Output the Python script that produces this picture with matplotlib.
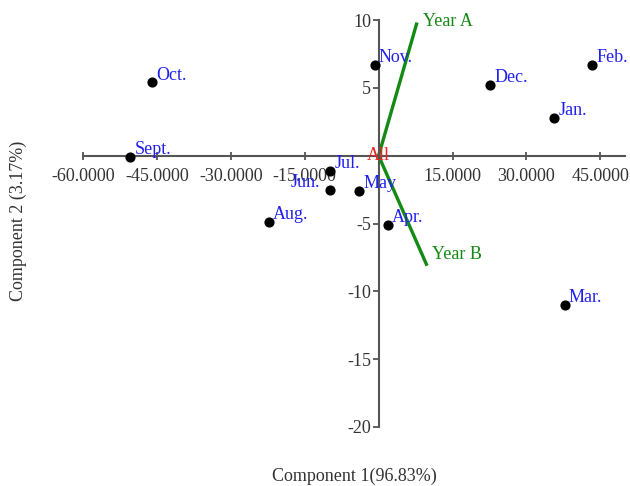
import numpy as np
import matplotlib
matplotlib.use("Agg")
import matplotlib.pyplot as plt

# month scores on the two components
months = ["Jan.", "Feb.", "Mar.", "Apr.", "May", "Jun.", "Jul.",
          "Aug.", "Sept.", "Oct.", "Nov.", "Dec."]
comp1 = [35.6, 43.3, 37.8, 1.9, -3.9, -9.8, -9.8, -22.3, -50.4, -46.0, -0.8, 22.6]
comp2 = [2.8, 6.7, -11.0, -5.1, -2.6, -2.5, -1.1, -4.9, -0.1, 5.4, 6.7, 5.2]

# loading vectors
vectors = ["Year A", "Year B"]
vec1 = [7.7, 9.7]
vec2 = [9.7, -8.0]

xticks = [-60, -45, -30, -15, 15, 30, 45]
yticks = [-20, -15, -10, -5, 5, 10]


def plotBiplot():
    plt.rcParams['font.family'] = ['Liberation Serif', 'DejaVu Serif']
    fig = plt.figure(figsize=(6.3, 4.86), dpi=100)
    ax = fig.add_axes([0.1317, 0.1214, 0.8603, 0.8374])
    ax.set_xlim(-60, 50)
    ax.set_ylim(-20, 10)

    # axes cross at the origin
    for side in ['top', 'right']:
        ax.spines[side].set_visible(False)
    for side in ['left', 'bottom']:
        ax.spines[side].set_position(('data', 0))
        ax.spines[side].set_color('#555555')
        ax.spines[side].set_linewidth(1.5)
    ax.set_xticks(xticks)
    ax.set_xticklabels(["%.4f" % v for v in xticks])
    ax.set_yticks(yticks)
    ax.set_yticklabels(["%d" % v for v in yticks])
    ax.tick_params(axis='x', direction='inout', length=6, width=1.3,
                   color='#555555', labelsize=13, pad=6, labelcolor='#333333')
    ax.tick_params(axis='y', direction='out', length=4.5, width=1.3,
                   color='#555555', labelsize=13, pad=1, labelcolor='#333333')

    # loading vectors
    for name, a, b in zip(vectors, vec1, vec2):
        ax.plot([0, a], [0, b], color='#138a13', lw=2.4, zorder=2)
        if b > 0:
            ax.annotate(name, (a, b), xytext=(5, 2), textcoords='offset points',
                        color='#138a13', fontsize=13, ha='left', va='center')
        else:
            ax.annotate(name, (a, b), xytext=(4, 7), textcoords='offset points',
                        color='#138a13', fontsize=13, ha='left', va='center')

    # month points
    ax.scatter(comp1, comp2, s=40, color='black', zorder=3, clip_on=False)
    for name, x, y in zip(months, comp1, comp2):
        if name == "Jun.":
            ax.annotate(name, (x, y), xytext=(-7, 2), textcoords='offset points',
                        color='#2020ee', fontsize=13, ha='right', va='baseline')
        else:
            ax.annotate(name, (x, y), xytext=(3, 2), textcoords='offset points',
                        color='#2020ee', fontsize=13, ha='left', va='baseline')

    ax.text(0, 0, "All", color='#ee2020', fontsize=13, ha='center', va='center')

    fig.text(354 / 630, 1 - 476 / 486, "Component 1(96.83%)", ha='center',
             va='center', fontsize=13, color='#333333')
    fig.text(18 / 630, 1 - 221 / 486, "Component 2 (3.17%)", ha='center',
             va='center', rotation=90, fontsize=13, color='#333333')

    fig.savefig("out.png", dpi=100)


def main():
    plotBiplot()


if __name__ == '__main__':
    main()
